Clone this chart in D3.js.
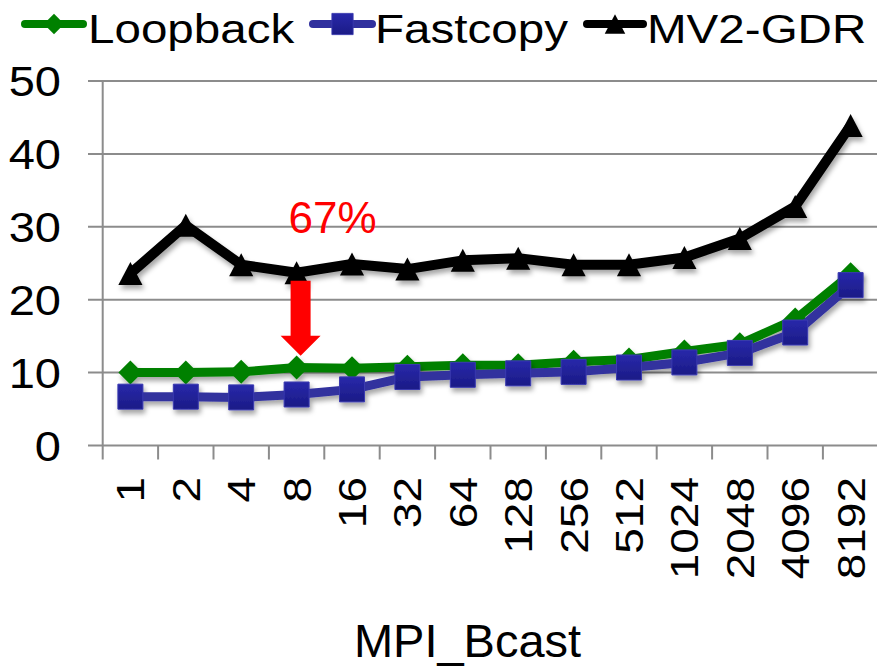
<!DOCTYPE html>
<html>
<head>
<meta charset="utf-8">
<script src="https://cdn.jsdelivr.net/npm/d3@7"></script>
<style>
  body { margin: 0; background: #fff; }
  svg { display: block; font-family: "Liberation Sans", Arial, Helvetica, sans-serif; }
</style>
</head>
<body>
<svg id="chart" width="877" height="669"></svg>
<script>
// message sizes (x categories)
var sizes = ['1', '2', '4', '8', '16', '32', '64', '128', '256', '512', '1024', '2048', '4096', '8192'];
// latency values
var loopback = [10.0, 10.0, 10.1, 10.7, 10.6, 10.8, 11.0, 11.0, 11.5, 11.8, 12.9, 13.9, 17.3, 23.5];
var fastcopy = [6.7, 6.7, 6.6, 7.0, 7.7, 9.4, 9.7, 9.9, 10.1, 10.7, 11.4, 12.7, 15.5, 22.0];
var mv2gdr = [23.6, 30.2, 24.8, 23.7, 24.9, 24.2, 25.4, 25.7, 24.8, 24.8, 25.8, 28.4, 32.8, 43.9];
var yTicks = [0, 10, 20, 30, 40, 50];
var seriesNames = ['Loopback', 'Fastcopy', 'MV2-GDR'];
// annotation: arrow at "8" from MV2-GDR down to Loopback
var noteCat = '8', noteText = '67%', noteFrom = 22.6, noteTo = 12.3, noteLabelY = 29.2;

var svg = d3.select('#chart');
var W = 877;
var x = d3.scaleBand().domain(sizes).range([102.7, 878.3]);
var y = d3.scaleLinear().domain([0, 50]).range([445.5, 81]);
var axisCol = '#8c8c8c';

// stretch text horizontally along its own direction (the source font is wider than Arial)
function stretch(sel, f) {
    sel.each(function() {
        var len = this.getComputedTextLength();
        d3.select(this).attr('textLength', len * f).attr('lengthAdjust', 'spacingAndGlyphs');
    });
}

var defs = svg.append('defs');
var sh = defs.append('filter').attr('id', 'shadow')
    .attr('x', '-20%').attr('y', '-20%').attr('width', '140%').attr('height', '160%');
sh.append('feDropShadow').attr('dx', 2).attr('dy', 4).attr('stdDeviation', 2.5)
    .attr('flood-color', '#000').attr('flood-opacity', 0.35);
var grad = defs.append('linearGradient').attr('id', 'sqgrad')
    .attr('x1', 0).attr('y1', 0).attr('x2', 0).attr('y2', 1);
grad.append('stop').attr('offset', '0%').attr('stop-color', '#2828aa');
grad.append('stop').attr('offset', '100%').attr('stop-color', '#1b1b86');

// grid + y axis
svg.append('g').selectAll('line.grid')
    .data(yTicks)
    .enter().append('line')
    .attr('class', 'grid')
    .attr('x1', 88).attr('x2', W)
    .attr('y1', function(d) { return y(d); })
    .attr('y2', function(d) { return y(d); })
    .attr('stroke', axisCol).attr('stroke-width', 2);

svg.append('line')
    .attr('x1', x.range()[0]).attr('x2', x.range()[0])
    .attr('y1', y(50)).attr('y2', y(0) + 14)
    .attr('stroke', axisCol).attr('stroke-width', 2);

// x ticks at band boundaries
svg.append('g').selectAll('line.xt')
    .data(sizes)
    .enter().append('line')
    .attr('class', 'xt')
    .attr('x1', function(d) { return x(d) + x.step(); })
    .attr('x2', function(d) { return x(d) + x.step(); })
    .attr('y1', y(0)).attr('y2', y(0) + 14)
    .attr('stroke', axisCol).attr('stroke-width', 2);

// y tick labels
svg.append('g').selectAll('text')
    .data(yTicks)
    .enter().append('text')
    .attr('x', 61)
    .attr('y', function(d) { return y(d); })
    .attr('dy', '0.36em')
    .attr('text-anchor', 'end')
    .style('font-size', '42px')
    .text(function(d) { return d; })
    .call(stretch, 1.12);

// x tick labels (rotated)
svg.append('g').selectAll('text')
    .data(sizes)
    .enter().append('text')
    .attr('transform', function(d) {
        return 'translate(' + (x(d) + x.bandwidth() / 2) + ',477) rotate(-90)';
    })
    .attr('dy', '0.36em')
    .attr('text-anchor', 'end')
    .style('font-size', '39px')
    .text(function(d) { return d; })
    .call(stretch, 1.18);

// x title
svg.append('text')
    .attr('x', 467.5).attr('y', 657)
    .attr('text-anchor', 'middle')
    .style('font-size', '47px')
    .text('MPI_Bcast');

// markers
function diamond(r) {
    return 'M0,' + (-r) + 'L' + r + ',0L0,' + r + 'L' + (-r) + ',0Z';
}
function triangle(s) {
    return 'M0,' + (-s) + 'L' + (s * 1.05) + ',' + s + 'L' + (-s * 1.05) + ',' + s + 'Z';
}
function square(s) {
    return 'M' + (-s) + ',' + (-s) + 'h' + (2 * s) + 'v' + (2 * s) + 'h' + (-2 * s) + 'Z';
}

var series = [
    {name: seriesNames[0], values: loopback, color: '#008000', width: 9, marker: diamond(12), fill: '#008000', stroke: 'none'},
    {name: seriesNames[1], values: fastcopy, color: '#30309e', width: 9, marker: square(12.5), fill: 'url(#sqgrad)', stroke: '#3a3ab0'},
    {name: seriesNames[2], values: mv2gdr, color: '#000000', width: 10, marker: triangle(11.5), fill: '#000000', stroke: 'none'}
];

var line = d3.line()
    .x(function(d, i) { return x(sizes[i]) + x.bandwidth() / 2; })
    .y(function(d) { return y(d); });

series.forEach(function(s) {
    var g = svg.append('g').attr('filter', 'url(#shadow)');
    g.append('path')
        .attr('d', line(s.values))
        .attr('fill', 'none')
        .attr('stroke', s.color)
        .attr('stroke-width', s.width)
        .attr('stroke-linejoin', 'round');
    g.selectAll('path.mk')
        .data(s.values)
        .enter().append('path')
        .attr('class', 'mk')
        .attr('d', s.marker)
        .attr('transform', function(d, i) {
            return 'translate(' + (x(sizes[i]) + x.bandwidth() / 2) + ',' + y(d) + ')';
        })
        .attr('fill', s.fill)
        .attr('stroke', s.stroke)
        .attr('stroke-width', 1);
});

// annotation arrow + label
var ax = x(noteCat) + x.bandwidth() / 2 + 4;
var top_ = y(noteFrom), tip = y(noteTo), headH = 20;
svg.append('path')
    .attr('d', 'M' + (ax - 10) + ',' + top_ + 'H' + (ax + 10) + 'V' + (tip - headH) +
        'H' + (ax + 20) + 'L' + ax + ',' + tip + 'L' + (ax - 20) + ',' + (tip - headH) +
        'H' + (ax - 10) + 'Z')
    .attr('fill', '#ff0000');
svg.append('text')
    .attr('x', x(noteCat) + x.bandwidth() / 2 + 36)
    .attr('y', y(noteLabelY))
    .attr('text-anchor', 'middle')
    .attr('fill', '#ff0000')
    .style('font-size', '44px')
    .text(noteText);

// legend
var legendItems = [
    {s: series[0], x1: 25, x2: 83, tx: 88},
    {s: series[1], x1: 313, x2: 372, tx: 375},
    {s: series[2], x1: 587, x2: 643, tx: 647}
];
var lg = svg.append('g').selectAll('g')
    .data(legendItems)
    .enter().append('g');
lg.append('line')
    .attr('x1', function(d) { return d.x1; })
    .attr('x2', function(d) { return d.x2; })
    .attr('y1', 24).attr('y2', 24)
    .attr('stroke', function(d) { return d.s.color; })
    .attr('stroke-width', 8)
    .attr('stroke-linecap', 'round');
lg.append('path')
    .attr('d', function(d) { return d.s.marker; })
    .attr('transform', function(d) { return 'translate(' + ((d.x1 + d.x2) / 2) + ',24) scale(0.85)'; })
    .attr('fill', function(d) { return d.s.fill; })
    .attr('stroke', function(d) { return d.s.stroke; });
lg.append('text')
    .attr('x', function(d) { return d.tx; })
    .attr('y', 43)
    .style('font-size', '41px')
    .text(function(d) { return d.s.name; })
    .call(stretch, 1.16);
</script>
</body>
</html>
